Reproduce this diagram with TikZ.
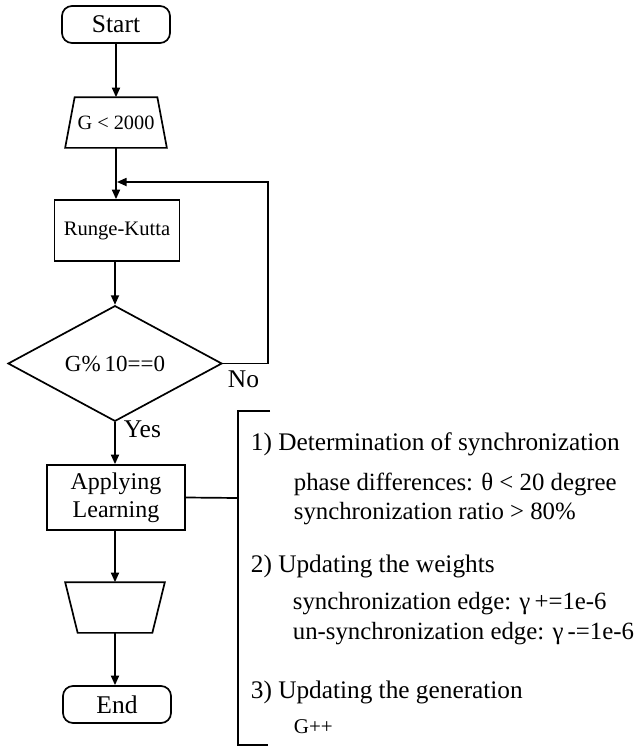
\documentclass[tikz,border=0pt]{standalone}
\usepackage{fontspec}
\setmainfont{Liberation Serif}
\usetikzlibrary{arrows.meta,shapes.geometric}
\begin{document}
\begin{tikzpicture}[x=1pt,y=-1pt, line width=1.7pt,
  >={Triangle[length=9.5pt,width=8pt]},
  term/.style={draw, rounded corners=10pt, minimum width=108pt, minimum height=37pt, inner sep=0pt, font=\fontsize{25.5}{30}\selectfont},
  proc/.style={draw, inner sep=0pt, align=center},
  trapbox/.style={inner sep=0pt, minimum height=49pt},
  dec/.style={draw, diamond, inner sep=0pt, minimum width=214pt, minimum height=99pt, font=\fontsize{23}{27}\selectfont},
  lbl/.style={inner sep=0pt, anchor=base west, font=\fontsize{25.5}{30}\selectfont},
  head/.style={inner sep=0pt, anchor=base west, font=\fontsize{25.3}{30}\selectfont},
  item/.style={inner sep=0pt, anchor=base west, font=\fontsize{24.8}{30}\selectfont},
  small/.style={inner sep=0pt, anchor=base west, font=\fontsize{21}{24}\selectfont}
]
\useasboundingbox (0,0) rectangle (644,747);

\node[term] (start) at (116,24.5) {Start};
\node[trapbox, minimum width=100pt, font=\fontsize{20.3}{24}\selectfont] (cond) at (116,122.5) {G < 2000};
\draw ([xshift=9.5pt]cond.north west) -- ([xshift=-9.5pt]cond.north east) -- (cond.south east) -- (cond.south west) -- cycle;
\node[proc, minimum width=125pt, minimum height=61pt, font=\fontsize{20.6}{24}\selectfont] (rk) at (117,230.5) {Runge-Kutta};
\node[dec] (dia) at (115,363.5) {G\%\,10==0};
\node[proc, minimum width=138pt, minimum height=65pt, font=\fontsize{24}{28}\selectfont] (apply) at (116,497.5) {Applying\\Learning};
\node[trapbox, minimum width=98pt] (out) at (115,607.5) {};
\draw (out.north west) -- (out.north east) -- ([xshift=-12.5pt]out.south east) -- ([xshift=12.5pt]out.south west) -- cycle;
\node[term] (end) at (117,704.5) {End};

\coordinate (join) at (117,182);
\coordinate (loopc) at (268,182);
\coordinate (brk) at (238,498);
\coordinate (bt) at (270,411);
\coordinate (btl) at (238,411);
\coordinate (bbl) at (238,745);
\coordinate (bb) at (268,745);

\draw[->] (start.south) -- (cond.north);
\draw[->] (cond.south) -- (cond.south |- rk.north);
\draw[->] (rk.south -| dia.north) -- (dia.north);
\draw[->] (dia.east) -| (loopc) -- (join);
\draw[->] (dia.south) -- (dia.south |- apply.north);
\draw[->] (apply.south -| out.north) -- (out.north);
\draw[->] (out.south) -- (out.south |- end.north);
\draw (apply.east) -- (brk);
\draw (bt) -- (btl) -- (bbl) -- (bb);

\node[lbl] (yes) at (123,437) {Yes};
\node[lbl] (no) at (227,387) {No};

\node[head] (t1) at (250,450) {1) Determination of synchronization};
\node[item] (t1a) at (293,490) {phase differences: θ < 20 degree};
\node[item] (t1b) at (293,519) {synchronization ratio > 80\%};
\node[head] (t2) at (250,572) {2) Updating the weights};
\node[item] (t2a) at (292,609) {synchronization edge: γ\,+=1e-6};
\node[item] (t2b) at (292,639) {un-synchronization edge: γ\,-=1e-6};
\node[head] (t3) at (250,698) {3) Updating the generation};
\node[small] (t3a) at (293,733) {G++};
\end{tikzpicture}
\end{document}
